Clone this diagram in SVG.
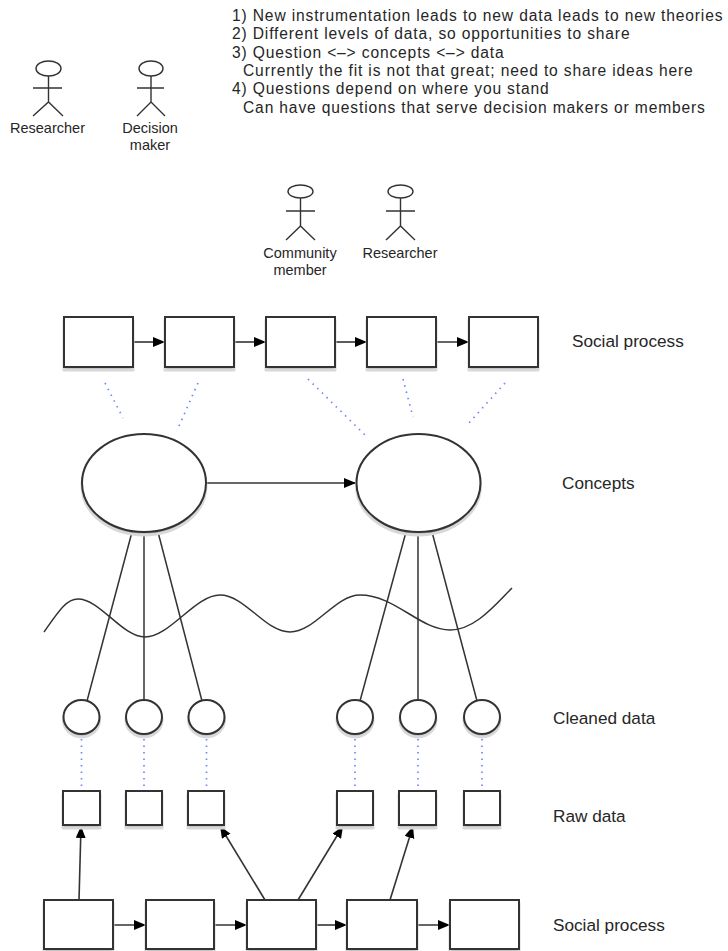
<svg xmlns="http://www.w3.org/2000/svg" width="728" height="951" viewBox="0 0 728 951">
<style>
text{font-family:"Liberation Sans",Arial,sans-serif;fill:#262626}
.note{font-size:15.6px;letter-spacing:0.85px}
.lbl{font-size:17.2px}
.act{font-size:14.5px;text-anchor:middle}
.box{fill:#fff;stroke:#333;stroke-width:2}
.shd{fill:#b0b0b0;stroke:#d8d8d8;stroke-width:3;stroke-linejoin:round}
.actor{fill:none;stroke:#333;stroke-width:1.4}
.head{fill:#fff;stroke:#333;stroke-width:1.4}
.arr{fill:none;stroke:#333;stroke-width:1.6;marker-end:url(#ah)}
.ln{fill:none;stroke:#333;stroke-width:1.5}
.dot{fill:none;stroke:#6f86ff;stroke-width:1.7;stroke-dasharray:1.5 5}
</style>
<defs>
<marker id="ah" markerUnits="userSpaceOnUse" markerWidth="13" markerHeight="11" refX="12" refY="5" orient="auto">
<path d="M0,0 L12,5 L0,10 z" fill="#000"/>
</marker>
</defs>
<rect width="728" height="951" fill="#fff"/>

<g id="notes">
<text class="note" x="232" y="21">1) New instrumentation leads to new data leads to new theories</text>
<text class="note" x="232" y="39">2) Different levels of data, so opportunities to share</text>
<text class="note" x="232" y="57.5">3) Question &lt;–&gt; concepts &lt;–&gt; data</text>
<text class="note" x="243" y="76">Currently the fit is not that great; need to share ideas here</text>
<text class="note" x="232" y="94">4) Questions depend on where you stand</text>
<text class="note" x="243" y="112.5">Can have questions that serve decision makers or members</text>
</g>

<g id="actor-researcher-1">
<ellipse class="head" cx="48.5" cy="68.5" rx="12.5" ry="7.5"/>
<path class="actor" d="M48.5,76 V102 M33,88 H62 M33,116 L48.5,102 L63,116"/>
<text class="act" x="47.5" y="133">Researcher</text>
</g>
<g id="actor-decision-maker">
<ellipse class="head" cx="151" cy="68.5" rx="12" ry="7.5"/>
<path class="actor" d="M151,76 V102 M137,88 H164 M137,116 L151,102 L165,116"/>
<text class="act" x="150" y="133">Decision</text>
<text class="act" x="150" y="150">maker</text>
</g>
<g id="actor-community-member">
<ellipse class="head" cx="300.5" cy="191.5" rx="12.5" ry="6.5"/>
<path class="actor" d="M300.5,198 V226 M286,211 H315 M286,240 L300.5,226 L315,240"/>
<text class="act" x="300" y="258">Community</text>
<text class="act" x="300" y="275">member</text>
</g>
<g id="actor-researcher-2">
<ellipse class="head" cx="400.5" cy="191.5" rx="12.5" ry="6.5"/>
<path class="actor" d="M400.5,198 V226 M386,211 H415 M386,240 L400.5,226 L415,240"/>
<text class="act" x="400" y="258">Researcher</text>
</g>

<g id="connectors">
<line class="arr" x1="133" y1="342" x2="165" y2="342"/>
<line class="arr" x1="234" y1="342" x2="266" y2="342"/>
<line class="arr" x1="335" y1="342" x2="367" y2="342"/>
<line class="arr" x1="436" y1="342" x2="469" y2="342"/>
<line class="dot" x1="105" y1="383" x2="123" y2="418"/>
<line class="dot" x1="198" y1="383" x2="179" y2="426"/>
<line class="dot" x1="308" y1="379" x2="367" y2="437"/>
<line class="dot" x1="403" y1="379" x2="413" y2="417"/>
<line class="dot" x1="505" y1="383" x2="468" y2="424"/>
<line class="arr" x1="206" y1="483" x2="356" y2="483"/>
<line class="ln" x1="132" y1="532" x2="87" y2="701"/>
<line class="ln" x1="144" y1="532" x2="144" y2="700"/>
<line class="ln" x1="158" y1="532" x2="202" y2="701"/>
<line class="ln" x1="406" y1="532" x2="360" y2="701"/>
<line class="ln" x1="418" y1="532" x2="418" y2="700"/>
<line class="ln" x1="432" y1="532" x2="477" y2="701"/>
<line class="dot" x1="81.5" y1="739" x2="81.5" y2="791"/>
<line class="dot" x1="144" y1="739" x2="144" y2="791"/>
<line class="dot" x1="206.5" y1="739" x2="206.5" y2="791"/>
<line class="dot" x1="355" y1="739" x2="355" y2="791"/>
<line class="dot" x1="418" y1="739" x2="418" y2="791"/>
<line class="dot" x1="482" y1="739" x2="482" y2="791"/>
<line class="arr" x1="79" y1="900" x2="81" y2="826"/>
<line class="arr" x1="265" y1="900" x2="220" y2="826"/>
<line class="arr" x1="298" y1="900" x2="343" y2="826"/>
<line class="arr" x1="390" y1="900" x2="413" y2="826"/>
<line class="arr" x1="113" y1="925" x2="146" y2="925"/>
<line class="arr" x1="214" y1="925" x2="247" y2="925"/>
<line class="arr" x1="316" y1="925" x2="347" y2="925"/>
<line class="arr" x1="417" y1="925" x2="450" y2="925"/>
</g>

<g id="wave">
<path class="ln" d="M44,632 C58,612 66,599 78,599 C100,599 122,637 145,637 C170,637 195,595 220,595 C245,595 265,632 290,632 C315,632 335,595 360,595 C395,595 420,630 450,630 C475,630 495,605 512,588"/>
</g>

<g id="social-top-1"><rect class="shd" x="64" y="320" width="69" height="50"/><rect class="box" x="64" y="317" width="69" height="50"/></g>
<g id="social-top-2"><rect class="shd" x="165" y="320" width="69" height="50"/><rect class="box" x="165" y="317" width="69" height="50"/></g>
<g id="social-top-3"><rect class="shd" x="266" y="320" width="69" height="50"/><rect class="box" x="266" y="317" width="69" height="50"/></g>
<g id="social-top-4"><rect class="shd" x="367" y="320" width="69" height="50"/><rect class="box" x="367" y="317" width="69" height="50"/></g>
<g id="social-top-5"><rect class="shd" x="469" y="320" width="69" height="50"/><rect class="box" x="469" y="317" width="69" height="50"/></g>

<g id="concept-1"><ellipse class="shd" cx="144" cy="486" rx="62" ry="49"/><ellipse class="box" cx="144" cy="483" rx="62" ry="49"/></g>
<g id="concept-2"><ellipse class="shd" cx="418.5" cy="486" rx="62" ry="49"/><ellipse class="box" cx="418.5" cy="483" rx="62" ry="49"/></g>

<g id="cleaned-1"><ellipse class="shd" cx="81.5" cy="720" rx="18" ry="17"/><ellipse class="box" cx="81.5" cy="717" rx="18" ry="17"/></g>
<g id="cleaned-2"><ellipse class="shd" cx="144" cy="720" rx="18" ry="17"/><ellipse class="box" cx="144" cy="717" rx="18" ry="17"/></g>
<g id="cleaned-3"><ellipse class="shd" cx="206.5" cy="720" rx="18" ry="17"/><ellipse class="box" cx="206.5" cy="717" rx="18" ry="17"/></g>
<g id="cleaned-4"><ellipse class="shd" cx="355" cy="720" rx="18" ry="17"/><ellipse class="box" cx="355" cy="717" rx="18" ry="17"/></g>
<g id="cleaned-5"><ellipse class="shd" cx="418" cy="720" rx="18" ry="17"/><ellipse class="box" cx="418" cy="717" rx="18" ry="17"/></g>
<g id="cleaned-6"><ellipse class="shd" cx="482" cy="720" rx="18" ry="17"/><ellipse class="box" cx="482" cy="717" rx="18" ry="17"/></g>

<g id="raw-1"><rect class="shd" x="63" y="794" width="37" height="34"/><rect class="box" x="63" y="791" width="37" height="34"/></g>
<g id="raw-2"><rect class="shd" x="126" y="794" width="36" height="34"/><rect class="box" x="126" y="791" width="36" height="34"/></g>
<g id="raw-3"><rect class="shd" x="188" y="794" width="36" height="34"/><rect class="box" x="188" y="791" width="36" height="34"/></g>
<g id="raw-4"><rect class="shd" x="337" y="794" width="36" height="34"/><rect class="box" x="337" y="791" width="36" height="34"/></g>
<g id="raw-5"><rect class="shd" x="399" y="794" width="37" height="34"/><rect class="box" x="399" y="791" width="37" height="34"/></g>
<g id="raw-6"><rect class="shd" x="464" y="794" width="36" height="34"/><rect class="box" x="464" y="791" width="36" height="34"/></g>

<g id="social-bottom-1"><rect class="shd" x="44" y="903" width="69" height="49"/><rect class="box" x="44" y="900" width="69" height="49"/></g>
<g id="social-bottom-2"><rect class="shd" x="146" y="903" width="68" height="49"/><rect class="box" x="146" y="900" width="68" height="49"/></g>
<g id="social-bottom-3"><rect class="shd" x="247" y="903" width="69" height="49"/><rect class="box" x="247" y="900" width="69" height="49"/></g>
<g id="social-bottom-4"><rect class="shd" x="347" y="903" width="70" height="49"/><rect class="box" x="347" y="900" width="70" height="49"/></g>
<g id="social-bottom-5"><rect class="shd" x="450" y="903" width="69" height="49"/><rect class="box" x="450" y="900" width="69" height="49"/></g>

<g id="labels">
<text class="lbl" x="572" y="347">Social process</text>
<text class="lbl" x="562" y="489">Concepts</text>
<text class="lbl" x="553" y="724">Cleaned data</text>
<text class="lbl" x="553" y="822">Raw data</text>
<text class="lbl" x="553" y="931">Social process</text>
</g>
</svg>
